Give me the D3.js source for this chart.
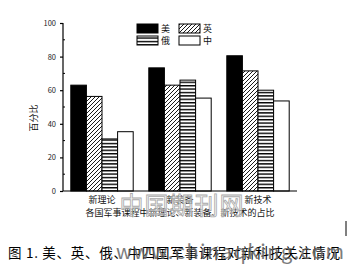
<!DOCTYPE html>
<html><head><meta charset="utf-8">
<script src="https://cdn.jsdelivr.net/npm/d3@7"></script>
<style>
html,body{margin:0;padding:0;background:#fff;}
text{font-family:"Noto Sans CJK SC","Noto Sans",sans-serif;}
</style></head>
<body><svg id="c" width="347" height="266"></svg>
<script>
const categories = ["新理论", "新装备", "新技术"];
const seriesNames = ["美", "英", "俄", "中"];
const valsUS = [63, 73.3, 80.5];
const valsUK = [56.3, 63, 71.5];
const valsRU = [31, 66, 60];
const valsCN = [35.3, 55.3, 53.6];
const yTicks = [0, 20, 40, 60, 80, 100];
const xTitle = "各国军事课程中新理论、新装备、新技术的占比";
const yTitle = "百分比";
const caption = "图 1. 美、英、俄、中四国军事课程对新科技关注情况";

const series = [valsUS, valsUK, valsRU, valsCN];
const fills = ["#000", "url(#hatch)", "url(#hlines)", "#fff"];

const svg = d3.select("#c");
const defs = svg.append("defs");
const ph = defs.append("pattern").attr("id","hatch").attr("patternUnits","userSpaceOnUse")
  .attr("width",4).attr("height",4);
ph.append("rect").attr("width",4).attr("height",4).attr("fill","#fff");
ph.append("path").attr("d","M-1,1 l2,-2 M0,4 l4,-4 M3,5 l2,-2").attr("stroke","#000").attr("stroke-width",0.9);
const pl = defs.append("pattern").attr("id","hlines").attr("patternUnits","userSpaceOnUse")
  .attr("width",4).attr("height",3.4);
pl.append("rect").attr("width",4).attr("height",3.4).attr("fill","#fff");
pl.append("rect").attr("y",0).attr("width",4).attr("height",1.4).attr("fill","#000");

const mLeft = 63, mRight = 297, mTop = 23, mBottom = 191;
const x0 = d3.scaleBand().domain(categories).range([mLeft, mRight]).paddingInner(0.2).paddingOuter(0.1);
const x1 = d3.scaleBand().domain(seriesNames).range([0, x0.bandwidth()]);
const y = d3.scaleLinear().domain([0, 100]).range([mBottom, mTop]);

// bars
categories.forEach((c, ci) => {
  series.forEach((s, si) => {
    svg.append("rect")
      .attr("x", x0(c) + x1(seriesNames[si]))
      .attr("y", y(s[ci]))
      .attr("width", x1.bandwidth())
      .attr("height", y(0) - y(s[ci]))
      .attr("fill", fills[si])
      .attr("stroke", "#000").attr("stroke-width", 1);
  });
});

// y axis
const ya = svg.append("g").attr("transform", `translate(${mLeft},0)`)
  .call(d3.axisLeft(y).tickValues(yTicks).tickSize(3).tickPadding(4));
ya.select(".domain").attr("stroke","#000").attr("stroke-width",1.2).attr("d",`M0,${mTop}V${mBottom}`);
ya.selectAll("text").attr("font-size",7.5).attr("fill","#222").attr("font-family","Liberation Sans, Arial, sans-serif");
ya.selectAll(".tick line").attr("stroke-width",1.2);
// minor ticks
const minor = d3.range(10, 100, 20);
svg.append("g").selectAll("line").data(minor).join("line")
  .attr("x1", mLeft).attr("x2", mLeft + 2).attr("y1", d => y(d)).attr("y2", d => y(d))
  .attr("stroke","#000").attr("stroke-width",1);

// x axis
const xa = svg.append("g").attr("transform", `translate(0,${mBottom})`)
  .call(d3.axisBottom(x0).tickSize(0).tickPadding(6));
xa.select(".domain").attr("stroke","#000").attr("stroke-width",1.2).attr("d",`M${mLeft},0H${mRight}`);
xa.selectAll("text").attr("font-size",9).attr("fill","#111");

// titles
svg.append("text").attr("x", 180).attr("y", 216).attr("text-anchor","middle")
  .attr("font-size",9).attr("fill","#111").text(xTitle);
svg.append("text").attr("transform","translate(37,118) rotate(-90)").attr("text-anchor","middle")
  .attr("font-size",9).attr("fill","#111").text(yTitle);

// legend
const leg = [[137,24],[179,24],[137,36],[179,36]];
seriesNames.forEach((n, i) => {
  svg.append("rect").attr("x", leg[i][0]).attr("y", leg[i][1]).attr("width",21).attr("height",9)
    .attr("fill", fills[i]).attr("stroke","#000").attr("stroke-width",1);
  svg.append("text").attr("x", leg[i][0] + 24).attr("y", leg[i][1] + 8)
    .attr("font-size",9).attr("fill","#111").text(n);
});

// watermark
svg.append("text").attr("x", 182).attr("y", 214).attr("text-anchor","middle")
  .attr("font-size",24).attr("fill","#eee").attr("fill-opacity",0.5).attr("stroke","#aaa").attr("stroke-width",0.8)
  .attr("letter-spacing",1).text("中国期刊网");

// caption
svg.append("text").attr("x", 8).attr("y", 258).attr("font-size",13.5).attr("fill","#000")
  .attr("textLength", 332).text(caption);
svg.append("text").attr("x", 116).attr("y", 259).attr("font-size",20).attr("fill","#666")
  .attr("opacity",0.85).attr("font-family","Liberation Sans, Arial, sans-serif")
  .attr("textLength", 228).text("www.chinaqking.com");

// edge mark
svg.append("line").attr("x1",346).attr("x2",346).attr("y1",221).attr("y2",236).attr("stroke","#000").attr("stroke-width",1);
</script></body></html>
